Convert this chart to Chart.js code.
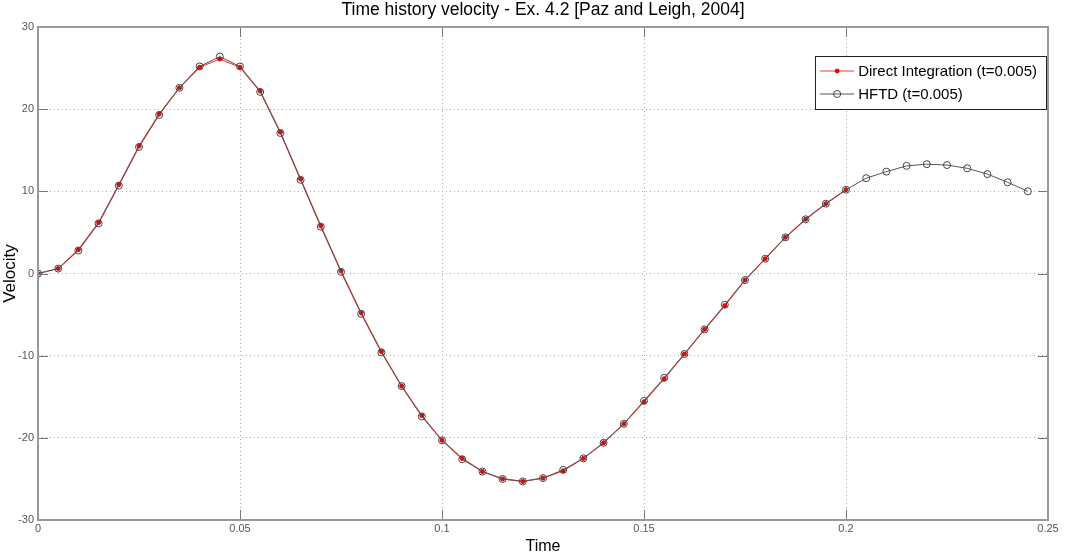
<!DOCTYPE html>
<html>
<head>
<meta charset="utf-8">
<script src="https://cdn.jsdelivr.net/npm/chart.js@4/dist/chart.umd.min.js"></script>
<style>
  html, body { margin: 0; padding: 0; background: #fff; }
  #wrap { width: 1070px; height: 556px; position: relative; }
</style>
</head>
<body>
<div id="wrap"><canvas id="chart"></canvas></div>
<script>
// time steps (dt = 0.005)
var timeHFTD = [0, 0.005, 0.01, 0.015, 0.02, 0.025, 0.03, 0.035, 0.04, 0.045,
  0.05, 0.055, 0.06, 0.065, 0.07, 0.075, 0.08, 0.085, 0.09, 0.095,
  0.1, 0.105, 0.11, 0.115, 0.12, 0.125, 0.13, 0.135, 0.14, 0.145,
  0.15, 0.155, 0.16, 0.165, 0.17, 0.175, 0.18, 0.185, 0.19, 0.195,
  0.2, 0.205, 0.21, 0.215, 0.22, 0.225, 0.23, 0.235, 0.24, 0.245];
var velHFTD = [0, 0.6, 2.8, 6.1, 10.7, 15.4, 19.3, 22.6, 25.2, 26.4,
  25.2, 22.1, 17.1, 11.4, 5.7, 0.2, -4.9, -9.6, -13.7, -17.4,
  -20.3, -22.6, -24.1, -25.0, -25.3, -24.9, -23.9, -22.5, -20.6, -18.3,
  -15.5, -12.7, -9.8, -6.8, -3.8, -0.8, 1.8, 4.4, 6.6, 8.5,
  10.2, 11.6, 12.4, 13.1, 13.3, 13.2, 12.8, 12.1, 11.1, 10.0];

var timeDirect = [0, 0.005, 0.01, 0.015, 0.02, 0.025, 0.03, 0.035, 0.04, 0.045,
  0.05, 0.055, 0.06, 0.065, 0.07, 0.075, 0.08, 0.085, 0.09, 0.095,
  0.1, 0.105, 0.11, 0.115, 0.12, 0.125, 0.13, 0.135, 0.14, 0.145,
  0.15, 0.155, 0.16, 0.165, 0.17, 0.175, 0.18, 0.185, 0.19, 0.195, 0.2];
var velDirect = [0, 0.6, 2.9, 6.2, 10.8, 15.5, 19.4, 22.6, 25.1, 26.1,
  25.1, 22.2, 17.2, 11.5, 5.8, 0.3, -4.8, -9.5, -13.7, -17.3,
  -20.3, -22.5, -24.1, -25.0, -25.3, -24.9, -24.0, -22.5, -20.6, -18.3,
  -15.6, -12.8, -9.8, -6.8, -3.9, -0.8, 1.8, 4.4, 6.6, 8.5, 10.2];

var xTicks = [0, 0.05, 0.1, 0.15, 0.2, 0.25];
var yTicks = [-30, -20, -10, 0, 10, 20, 30];

var fontFam = 'Arial, "Liberation Sans", sans-serif';

function toPoints(xs, ys) {
  return xs.map(function (x, i) { return {x: x, y: ys[i]}; });
}

// box round the axes + inward tick marks
var axesBox = {
  id: 'axesBox',
  afterDatasetsDraw: function (chart) {
    var ctx = chart.ctx, a = chart.chartArea;
    var xs = chart.scales.x, ys = chart.scales.y;
    ctx.save();
    ctx.strokeStyle = '#777';
    ctx.lineWidth = 1;
    ctx.beginPath();
    xTicks.forEach(function (t) {
      var px = Math.round(xs.getPixelForValue(t)) + 0.5;
      ctx.moveTo(px, a.bottom); ctx.lineTo(px, a.bottom - 10);
      ctx.moveTo(px, a.top); ctx.lineTo(px, a.top + 10);
    });
    yTicks.forEach(function (v) {
      var py = Math.round(ys.getPixelForValue(v)) + 0.5;
      ctx.moveTo(a.left, py); ctx.lineTo(a.left + 10, py);
      ctx.moveTo(a.right, py); ctx.lineTo(a.right - 10, py);
    });
    ctx.stroke();
    ctx.strokeStyle = '#999';
    ctx.lineWidth = 2;
    ctx.strokeRect(a.left, a.top, a.right - a.left, a.bottom - a.top);
    ctx.restore();
  }
};

// legend box inside the plot, top right
var innerLegend = {
  id: 'innerLegend',
  afterDraw: function (chart) {
    var ctx = chart.ctx, a = chart.chartArea;
    var sets = chart.data.datasets;
    ctx.save();
    ctx.font = '15px ' + fontFam;
    var w = 0;
    sets.forEach(function (d) { w = Math.max(w, ctx.measureText(d.label).width); });
    var boxW = w + 52, boxH = 53;
    var bx = a.right - 2 - boxW, by = a.top + 29;
    ctx.fillStyle = '#fff';
    ctx.fillRect(bx, by, boxW, boxH);
    ctx.strokeStyle = '#222';
    ctx.lineWidth = 1;
    ctx.strokeRect(Math.round(bx) + 0.5, Math.round(by) + 0.5, Math.round(boxW), boxH);
    sets.forEach(function (d, i) {
      var cy = by + 15 + i * 23;
      ctx.strokeStyle = d.borderColor;
      ctx.lineWidth = 1;
      ctx.beginPath();
      ctx.moveTo(bx + 5, cy); ctx.lineTo(bx + 39, cy);
      ctx.stroke();
      ctx.fillStyle = d.pointBackgroundColor;
      ctx.strokeStyle = d.pointBorderColor;
      ctx.lineWidth = d.pointBorderWidth;
      Chart.helpers.drawPoint(ctx, {
        pointStyle: d.pointStyle, radius: d.pointRadius, rotation: 0,
        borderWidth: d.pointBorderWidth
      }, bx + 22, cy);
      ctx.fillStyle = '#000';
      ctx.textBaseline = 'middle';
      ctx.fillText(d.label, bx + 43, cy + 1);
    });
    ctx.restore();
  }
};

var directColor = '#ff3333';
var hftdColor = '#555555';

new Chart('chart', {
  type: 'line',
  data: {
    datasets: [{
      label: 'Direct Integration (t=0.005)',
      data: toPoints(timeDirect, velDirect),
      borderColor: directColor,
      backgroundColor: '#ff0000',
      borderWidth: 1.2,
      pointStyle: 'circle',
      pointRadius: 2,
      pointBackgroundColor: '#e00000',
      pointBorderColor: '#e00000',
      pointBorderWidth: 1,
      order: 2
    }, {
      label: 'HFTD (t=0.005)',
      data: toPoints(timeHFTD, velHFTD),
      borderColor: hftdColor,
      backgroundColor: 'rgba(0,0,0,0)',
      borderWidth: 1,
      pointStyle: 'circle',
      pointRadius: 3.5,
      pointBackgroundColor: 'rgba(0,0,0,0)',
      pointBorderColor: '#444',
      pointBorderWidth: 1,
      order: 1
    }]
  },
  options: {
    responsive: true,
    maintainAspectRatio: false,
    animation: false,
    layout: {padding: {left: 0, right: 22, top: 0, bottom: 0}},
    plugins: {
      legend: {display: false},
      tooltip: {enabled: false},
      title: {
        display: true,
        fullSize: false,
        text: 'Time history velocity - Ex. 4.2 [Paz and Leigh, 2004]',
        color: '#000',
        font: {family: fontFam, size: 17.5, weight: 'normal'},
        padding: {top: 0, bottom: 6}
      }
    },
    scales: {
      x: {
        type: 'linear',
        min: 0,
        max: 0.25,
        afterBuildTicks: function (s) { s.ticks = xTicks.map(function (v) { return {value: v}; }); },
        afterFit: function (s) { s.height = 36; },
        ticks: {
          color: '#555', font: {family: fontFam, size: 11}, padding: 2,
          maxRotation: 0,
          callback: function (v) { return String(v); }
        },
        grid: {color: '#aaa', drawTicks: false},
        border: {display: false, dash: [1, 3]},
        title: {display: true, text: 'Time', color: '#000', font: {family: fontFam, size: 16}, padding: {top: 0, bottom: 0}}
      },
      y: {
        type: 'linear',
        min: -30,
        max: 30,
        afterBuildTicks: function (s) { s.ticks = yTicks.map(function (v) { return {value: v}; }); },
        afterFit: function (s) { s.width = 38; },
        ticks: {color: '#555', font: {family: fontFam, size: 11}, padding: 4},
        grid: {color: '#aaa', drawTicks: false},
        border: {display: false, dash: [1, 3]},
        title: {display: true, text: 'Velocity', color: '#000', font: {family: fontFam, size: 17}, padding: 0}
      }
    }
  },
  plugins: [axesBox, innerLegend]
});
</script>
</body>
</html>
